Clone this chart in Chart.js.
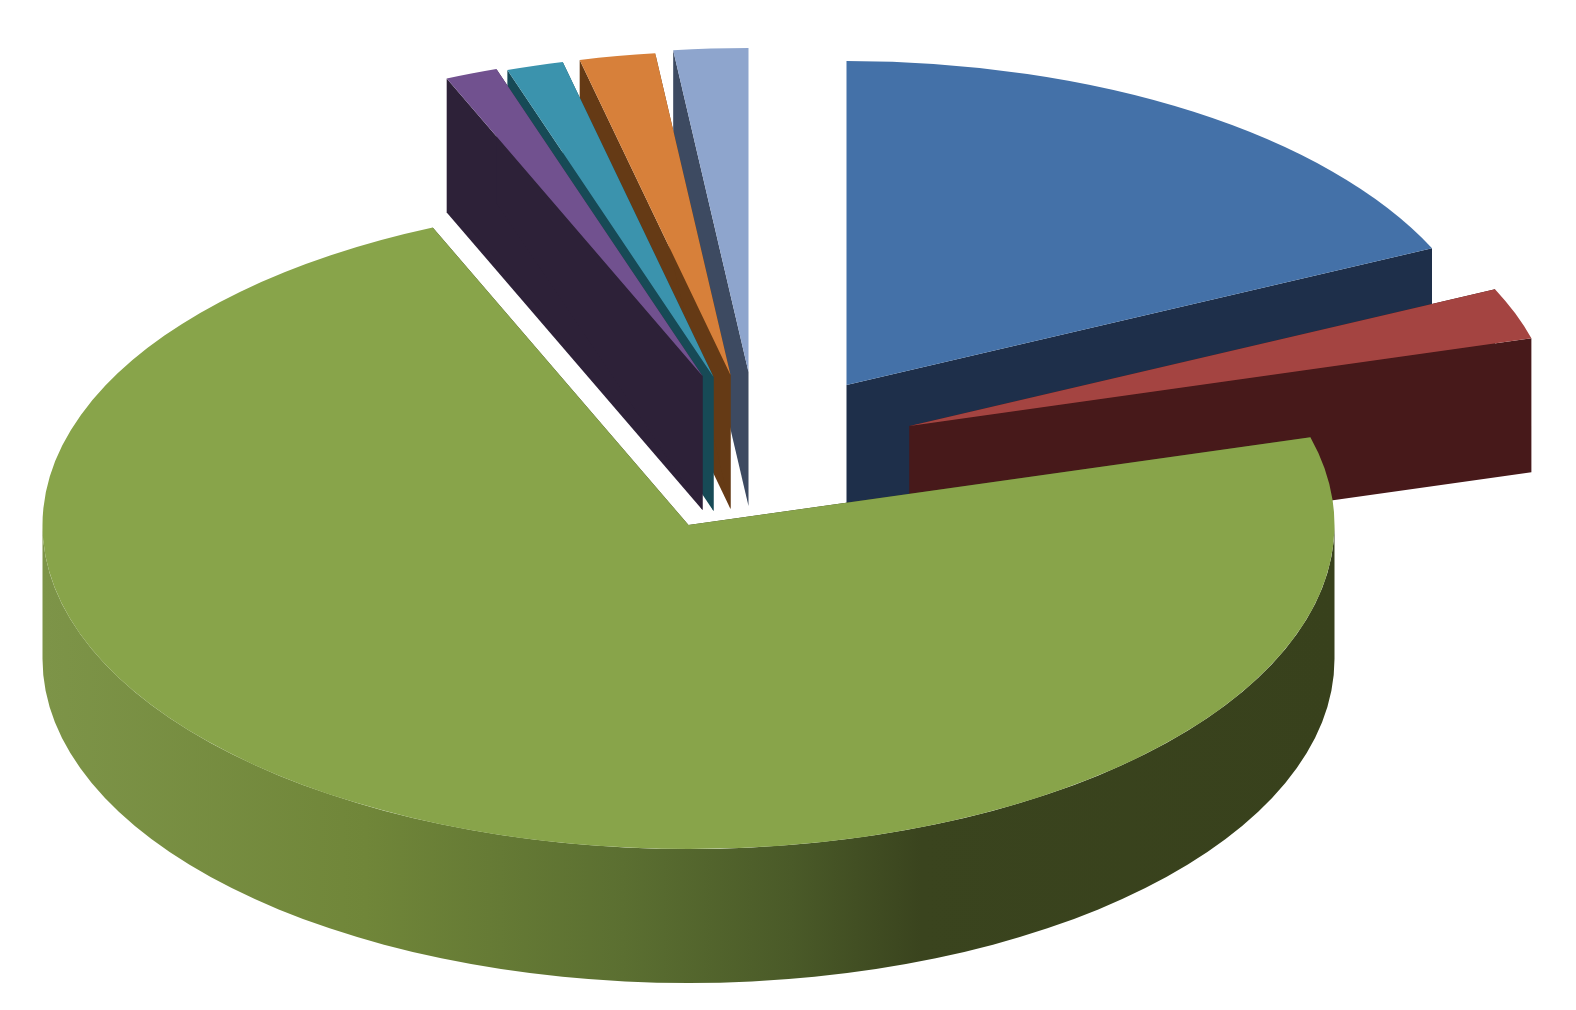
<!DOCTYPE html>
<html>
<head>
<meta charset="utf-8">
<title>3D pie</title>
<script src="https://cdn.jsdelivr.net/npm/chart.js@4/dist/chart.umd.min.js"></script>
<style>
  html, body { margin: 0; padding: 0; background: #ffffff; }
  canvas { display: block; }
</style>
</head>
<body>
<canvas id="pieChart" width="1576" height="1010"></canvas>
<script>
const categories = ["A", "B", "C", "D", "E", "F", "G"];
const shares = [18.06, 2.58, 72.89, 1.31, 1.42, 1.89, 1.86];

const topColors = ["#4471a8", "#a44441", "#88a44a", "#71518f", "#3b93ad", "#d7803a", "#8ea5cd"];
const faceColors = ["#1e2f4a", "#47191a", "#38411c", "#2d2138", "#174a56", "#653a15", "#3d4a61"];

// how far each slice is pulled out, in screen px
const explodeX = [158, 221, 0, 14, 25, 42, 60];
const explodeY = [-140, -99, 0, -149, -148, -150, -153];
const paintOrder = [0, 1, 6, 5, 4, 3, 2];

const pieX = 688.5;
const pieY = 525;
const pieRadius = 646;
const squash = 0.5015;
const depth = 134;

function wallGradient(ctx) {
  const left = pieX - pieRadius;
  const right = pieX + pieRadius;
  const g = ctx.createLinearGradient(left, 0, right, 0);
  g.addColorStop(0, "#7d9448");
  g.addColorStop(0.25, "#708639");
  g.addColorStop(0.45, "#5b6f31");
  g.addColorStop(0.58, "#4a5a28");
  g.addColorStop(0.68, "#3a441e");
  g.addColorStop(1, "#38411c");
  return g;
}

const tiltedPie = {
  id: "tiltedPie",
  beforeDatasetsDraw(chart) {
    const { ctx } = chart;
    const arcs = chart.getDatasetMeta(0).data;
    const drop = depth / squash;

    paintOrder.forEach((i) => {
      const arc = arcs[i];
      const { x, y, startAngle, endAngle, outerRadius } = arc;
      const r = outerRadius;

      ctx.save();
      ctx.translate(pieX + explodeX[i], pieY + explodeY[i]);
      ctx.scale(1, squash);
      ctx.translate(-x, -y);

      // the two cut faces
      ctx.fillStyle = faceColors[i];
      [startAngle, endAngle].forEach((a) => {
        const rimX = x + Math.cos(a) * r;
        const rimY = y + Math.sin(a) * r;
        ctx.beginPath();
        ctx.moveTo(x, y);
        ctx.lineTo(rimX, rimY);
        ctx.lineTo(rimX, rimY + drop);
        ctx.lineTo(x, y + drop);
        ctx.closePath();
        ctx.fill();
      });

      // outer wall, only the part that faces the viewer
      const from = Math.max(startAngle, 0);
      const to = Math.min(endAngle, Math.PI);
      if (to > from) {
        ctx.save();
        ctx.translate(x - pieX, 0);
        ctx.fillStyle = wallGradient(ctx);
        ctx.beginPath();
        ctx.arc(pieX, y, r, from, to);
        ctx.arc(pieX, y + drop, r, to, from, true);
        ctx.closePath();
        ctx.fill();
        ctx.restore();
      }

      arc.draw(ctx);
      ctx.restore();
    });

    return false;
  },
};

new Chart(document.getElementById("pieChart"), {
  type: "pie",
  data: {
    labels: categories,
    datasets: [
      {
        data: shares,
        backgroundColor: topColors,
        borderWidth: 0,
        radius: pieRadius,
      },
    ],
  },
  options: {
    responsive: false,
    animation: false,
    plugins: {
      legend: { display: false },
      tooltip: { enabled: false },
    },
  },
  plugins: [tiltedPie],
});
</script>
</body>
</html>
